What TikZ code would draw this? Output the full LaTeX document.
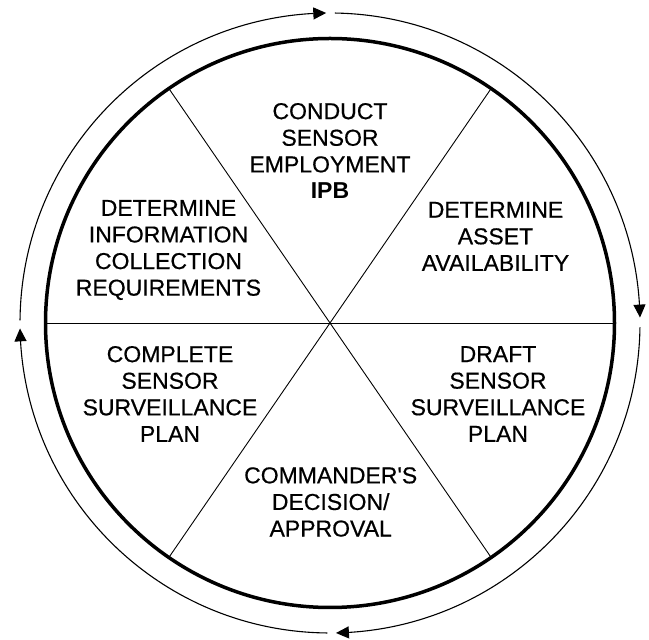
\documentclass[tikz,border=0pt]{standalone}
\usepackage{fontspec}
\newfontfamily\lab[FakeBold=0.5]{Liberation Sans}
\newfontfamily\ipbfont{Liberation Sans}
\usetikzlibrary{arrows.meta,bending}
\begin{document}
\begin{tikzpicture}[x=1pt,y=1pt,
  lbl/.style={align=center,inner sep=0pt,font={\lab\fontsize{23}{26.6}\selectfont}},
  spoke/.style={line width=0.9pt},
  rim/.style={line width=3.5pt},
  cyc/.style={line width=1.1pt,-{Triangle[length=13pt,width=12pt,bend]}}]
\useasboundingbox (0,0) rectangle (649,640);
\coordinate (c) at (330,317);
\coordinate (a1) at ([shift={(c)}]55.5:284.5pt);
\coordinate (a2) at ([shift={(c)}]235.5:284.5pt);
\coordinate (b1) at ([shift={(c)}]124.5:284.5pt);
\coordinate (b2) at ([shift={(c)}]304.5:284.5pt);
\coordinate (h1) at ([shift={(c)}]0:284.5pt);
\coordinate (h2) at ([shift={(c)}]180:284.5pt);
\draw[spoke] (a1) -- (a2);
\draw[spoke] (b1) -- (b2);
\draw[spoke] (h1) -- (h2);
\draw[rim] (c) circle[radius=284.5pt];
% outer cycle arrows
\draw[cyc] ([shift={(c)}]179.5:310pt) arc[start angle=179.5, end angle=90.7, radius=310pt];
\draw[cyc] ([shift={(c)}]89.1:310pt) arc[start angle=89.1, end angle=1.0, radius=310pt];
\draw[cyc] ([shift={(c)}]-0.8:310pt) arc[start angle=-0.8, end angle=-88.9, radius=310pt];
\draw[cyc] ([shift={(c)}]-90.5:310pt) arc[start angle=-90.5, end angle=-179.0, radius=310pt];
% labels
\node[lbl] (top) at (330,489) {CONDUCT\\SENSOR\\EMPLOYMENT\\{\ipbfont\bfseries\fontsize{23}{26.6}\selectfont IPB}};
\node[lbl] (ul) at (168.5,390) {DETERMINE\\INFORMATION\\COLLECTION\\REQUIREMENTS};
\node[lbl] (ur) at (495.5,403.6) {DETERMINE\\ASSET\\AVAILABILITY};
\node[lbl] (ll) at (170,246) {COMPLETE\\SENSOR\\SURVEILLANCE\\PLAN};
\node[lbl] (lr) at (498,246) {DRAFT\\SENSOR\\SURVEILLANCE\\PLAN};
\node[lbl] (bot) at (330.7,138) {COMMANDER'S\\DECISION/\\APPROVAL};
\end{tikzpicture}
\end{document}
